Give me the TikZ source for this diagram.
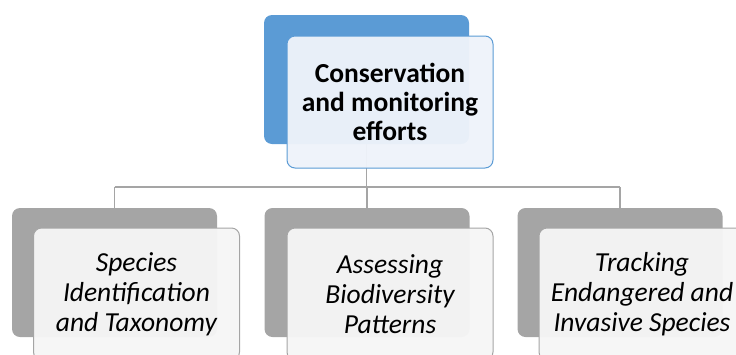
\documentclass[tikz,border=0pt]{standalone}
\usepackage{fontspec}
\setmainfont{Carlito}
\definecolor{accent}{RGB}{91,155,213}
\definecolor{accentpale}{RGB}{238,243,250}
\definecolor{greyback}{RGB}{165,165,165}
\definecolor{greypale}{RGB}{246,246,246}
\begin{document}
\begin{tikzpicture}[x=1pt,y=-1pt,
  backbox/.style={draw=none, rounded corners=8pt, minimum width=205pt, minimum height=129pt, inner sep=0pt},
  frontbox/.style={rounded corners=8pt, minimum width=206pt, minimum height=132pt, inner sep=0pt,
    line width=1pt, fill opacity=0.96, text opacity=1, align=center},
  link/.style={draw=greyback, line width=1.3pt}]
\useasboundingbox (0,0) rectangle (736,354);
\clip (0,0) rectangle (736,354);

% back plates
\node[backbox, fill=accent] (rootback) at (366.5,79.5) {};
\node[backbox, fill=greyback] (aback) at (114.5,272.5) {};
\node[backbox, fill=greyback] (bback) at (367,272.5) {};
\node[backbox, fill=greyback] (cback) at (620,272.5) {};

% connectors
\coordinate (bus) at (0,187);
\draw[link] (rootback.south) -- (rootback.south |- bus);
\draw[link] (aback.north |- bus) -- (cback.north |- bus);
\draw[link] (aback.north |- bus) -- (aback.north);
\draw[link] (bback.north |- bus) -- (bback.north);
\draw[link] (cback.north |- bus) -- (cback.north);

% front cards
\node[frontbox, draw=accent, fill=accentpale, font=\fontsize{27.5}{29}\selectfont\bfseries] (root) at (390,102)
  {Conservation\\and monitoring\\efforts};
\node[frontbox, draw=greyback, fill=greypale, font=\fontsize{27.5}{30}\selectfont\itshape] (a) at (136.5,294)
  {Species\\Identification\\and Taxonomy};
\node[frontbox, draw=greyback, fill=greypale, font=\fontsize{27.5}{30}\selectfont\itshape] (b) at (390,294)
  {Assessing\\Biodiversity\\Patterns};
\node[frontbox, draw=greyback, fill=greypale, font=\fontsize{27.5}{30}\selectfont\itshape] (c) at (642,294)
  {Tracking\\Endangered and\\Invasive Species};
\end{tikzpicture}
\end{document}
